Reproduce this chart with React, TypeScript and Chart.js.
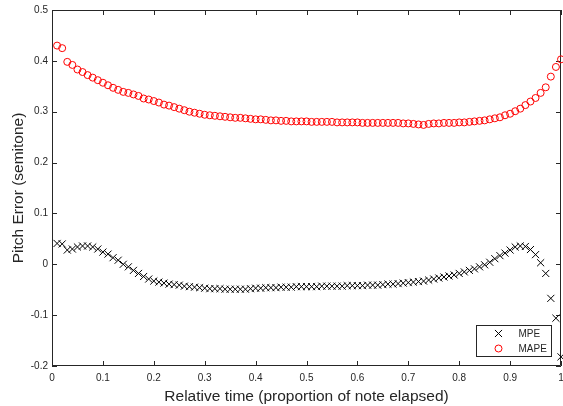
import React, { useEffect, useRef } from "react";
import { Chart, registerables } from "chart.js";
import { drawPoint } from "chart.js/helpers";

Chart.register(...registerables);

const timeValues = [
  0.01, 0.02, 0.03, 0.04, 0.05, 0.06, 0.07, 0.08, 0.09, 0.1,
  0.11, 0.12, 0.13, 0.14, 0.15, 0.16, 0.17, 0.18, 0.19, 0.2,
  0.21, 0.22, 0.23, 0.24, 0.25, 0.26, 0.27, 0.28, 0.29, 0.3,
  0.31, 0.32, 0.33, 0.34, 0.35, 0.36, 0.37, 0.38, 0.39, 0.4,
  0.41, 0.42, 0.43, 0.44, 0.45, 0.46, 0.47, 0.48, 0.49, 0.5,
  0.51, 0.52, 0.53, 0.54, 0.55, 0.56, 0.57, 0.58, 0.59, 0.6,
  0.61, 0.62, 0.63, 0.64, 0.65, 0.66, 0.67, 0.68, 0.69, 0.7,
  0.71, 0.72, 0.73, 0.74, 0.75, 0.76, 0.77, 0.78, 0.79, 0.8,
  0.81, 0.82, 0.83, 0.84, 0.85, 0.86, 0.87, 0.88, 0.89, 0.9,
  0.91, 0.92, 0.93, 0.94, 0.95, 0.96, 0.97, 0.98, 0.99, 1.0,
];

const mpeValues = [
  0.041, 0.040, 0.028, 0.030, 0.034, 0.036, 0.036, 0.034, 0.030, 0.024,
  0.020, 0.013, 0.008, 0.000, -0.005, -0.012, -0.018, -0.024, -0.029, -0.033,
  -0.035, -0.037, -0.039, -0.040, -0.041, -0.043, -0.044, -0.045, -0.046, -0.047,
  -0.048, -0.048, -0.048, -0.049, -0.049, -0.049, -0.049, -0.049, -0.048, -0.047,
  -0.047, -0.046, -0.046, -0.046, -0.045, -0.045, -0.045, -0.044, -0.044, -0.044,
  -0.044, -0.044, -0.043, -0.043, -0.043, -0.043, -0.043, -0.042, -0.042, -0.042,
  -0.042, -0.041, -0.041, -0.041, -0.040, -0.039, -0.039, -0.038, -0.037, -0.036,
  -0.035, -0.034, -0.033, -0.031, -0.029, -0.027, -0.025, -0.023, -0.021, -0.018,
  -0.015, -0.012, -0.009, -0.005, -0.001, 0.004, 0.011, 0.017, 0.022, 0.028,
  0.034, 0.036, 0.035, 0.029, 0.019, 0.003, -0.018, -0.067, -0.106, -0.182,
];

const mapeValues = [
  0.430, 0.425, 0.398, 0.392, 0.383, 0.378, 0.372, 0.367, 0.362, 0.357,
  0.352, 0.347, 0.343, 0.339, 0.337, 0.334, 0.331, 0.326, 0.324, 0.321,
  0.318, 0.314, 0.312, 0.309, 0.306, 0.303, 0.300, 0.298, 0.296, 0.294,
  0.293, 0.292, 0.291, 0.290, 0.289, 0.288, 0.288, 0.287, 0.286, 0.285,
  0.285, 0.284, 0.283, 0.283, 0.282, 0.282, 0.281, 0.281, 0.281, 0.281,
  0.280, 0.280, 0.280, 0.280, 0.280, 0.279, 0.279, 0.279, 0.279, 0.279,
  0.278, 0.278, 0.278, 0.278, 0.278, 0.278, 0.278, 0.278, 0.277, 0.277,
  0.276, 0.275, 0.274, 0.276, 0.277, 0.277, 0.278, 0.278, 0.278, 0.279,
  0.279, 0.280, 0.281, 0.282, 0.283, 0.285, 0.287, 0.289, 0.293, 0.296,
  0.301, 0.306, 0.313, 0.320, 0.327, 0.337, 0.348, 0.369, 0.388, 0.403,
];

const seriesNames = ["MPE", "MAPE"];
const xTitle = "Relative time (proportion of note elapsed)";
const yTitle = "Pitch Error (semitone)";

const AXIS_COLOR = "#262626";
const FONT = "'Liberation Sans', Arial, Helvetica, sans-serif";

const fmt = (v: number) => String(Number(Number(v).toFixed(1)));

const framePlugin = {
  id: "frame",
  beforeDatasetsDraw(chart: any) {
    const { ctx, chartArea, scales } = chart;
    const { left, right, top, bottom } = chartArea;
    ctx.save();
    ctx.strokeStyle = AXIS_COLOR;
    ctx.lineWidth = 1;
    ctx.beginPath();
    ctx.rect(Math.round(left) + 0.5, Math.round(top) + 0.5, Math.round(right - left) - 1, Math.round(bottom - top) - 1);
    ctx.stroke();
    const tl = 5;
    ctx.beginPath();
    scales.x.ticks.forEach((t: any) => {
      const px = Math.round(scales.x.getPixelForValue(t.value)) + 0.5;
      ctx.moveTo(px, bottom);
      ctx.lineTo(px, bottom - tl);
      ctx.moveTo(px, top);
      ctx.lineTo(px, top + tl);
    });
    scales.y.ticks.forEach((t: any) => {
      const py = Math.round(scales.y.getPixelForValue(t.value)) + 0.5;
      ctx.moveTo(left, py);
      ctx.lineTo(left + tl, py);
      ctx.moveTo(right, py);
      ctx.lineTo(right - tl, py);
    });
    ctx.stroke();
    ctx.restore();
  },
};

const legendPlugin = {
  id: "boxLegend",
  afterDatasetsDraw(chart: any) {
    const { ctx, chartArea } = chart;
    const w = 75;
    const h = 31;
    const x0 = Math.round(chartArea.right - 10 - w) + 0.5;
    const y0 = Math.round(chartArea.bottom - 10 - h) + 0.5;
    ctx.save();
    ctx.fillStyle = "#ffffff";
    ctx.fillRect(x0, y0, w, h);
    ctx.strokeStyle = AXIS_COLOR;
    ctx.lineWidth = 1;
    ctx.strokeRect(x0, y0, w, h);
    chart.data.datasets.forEach((ds: any, i: number) => {
      const cy = y0 + 8 + i * 15;
      ctx.strokeStyle = ds.borderColor;
      ctx.fillStyle = "rgba(0,0,0,0)";
      ctx.lineWidth = 1;
      drawPoint(ctx, { pointStyle: ds.pointStyle, radius: ds.pointRadius, borderWidth: 1, rotation: 0 } as any, x0 + 22, cy);
      ctx.fillStyle = AXIS_COLOR;
      ctx.font = `10px ${FONT}`;
      ctx.textBaseline = "middle";
      ctx.textAlign = "left";
      ctx.fillText(ds.label, x0 + 42, cy + 0.5);
    });
    ctx.restore();
  },
};

export default function App() {
  const canvasRef = useRef<HTMLCanvasElement | null>(null);

  useEffect(() => {
    if (!canvasRef.current) return;
    const chart = new Chart(canvasRef.current, {
      type: "scatter",
      data: {
        datasets: [
          {
            label: seriesNames[0],
            data: timeValues.map((t, i) => ({ x: t, y: mpeValues[i] })),
            pointStyle: "crossRot",
            pointRadius: 5,
            borderColor: "#000000",
            backgroundColor: "rgba(0,0,0,0)",
            borderWidth: 1,
            showLine: false,
            clip: false,
          } as any,
          {
            label: seriesNames[1],
            data: timeValues.map((t, i) => ({ x: t, y: mapeValues[i] })),
            pointStyle: "circle",
            pointRadius: 3.5,
            borderColor: "#ff0000",
            backgroundColor: "rgba(0,0,0,0)",
            borderWidth: 1,
            showLine: false,
            clip: false,
          } as any,
        ],
      },
      options: {
        responsive: false,
        animation: false,
        events: [],
        layout: { autoPadding: false, padding: { top: 10, right: 2, left: 0, bottom: 0 } },
        plugins: {
          legend: { display: false },
          tooltip: { enabled: false },
        },
        scales: {
          x: {
            type: "linear",
            min: 0,
            max: 1,
            grid: { display: false, drawTicks: false },
            border: { display: false },
            ticks: {
              stepSize: 0.1,
              color: AXIS_COLOR,
              font: { family: FONT, size: 10 },
              padding: 6,
              maxRotation: 0,
              autoSkip: false,
              callback: (v: any) => fmt(v),
            },
            title: {
              display: true,
              text: xTitle,
              color: AXIS_COLOR,
              font: { family: FONT, size: 15.5 },
              padding: { top: 2, bottom: 0 },
            },
            afterFit: (s: any) => {
              s.height = 40;
              s.paddingLeft = 0;
              s.paddingRight = 0;
            },
          },
          y: {
            type: "linear",
            min: -0.2,
            max: 0.5,
            grid: { display: false, drawTicks: false },
            border: { display: false },
            ticks: {
              stepSize: 0.1,
              color: AXIS_COLOR,
              font: { family: FONT, size: 10 },
              padding: 4,
              autoSkip: false,
              callback: (v: any) => fmt(v),
            },
            title: {
              display: true,
              text: yTitle,
              color: AXIS_COLOR,
              font: { family: FONT, size: 15.5 },
              padding: { top: 9, bottom: 0 },
            },
            afterFit: (s: any) => {
              s.width = 52;
              s.paddingTop = 0;
              s.paddingBottom = 0;
            },
          },
        },
      } as any,
      plugins: [framePlugin, legendPlugin],
    });
    return () => chart.destroy();
  }, []);

  return (
    <div style={{ position: "absolute", left: 0, top: 0, width: 563, height: 406, background: "#ffffff" }}>
      <canvas ref={canvasRef} width={563} height={406} style={{ display: "block" }} />
    </div>
  );
}
